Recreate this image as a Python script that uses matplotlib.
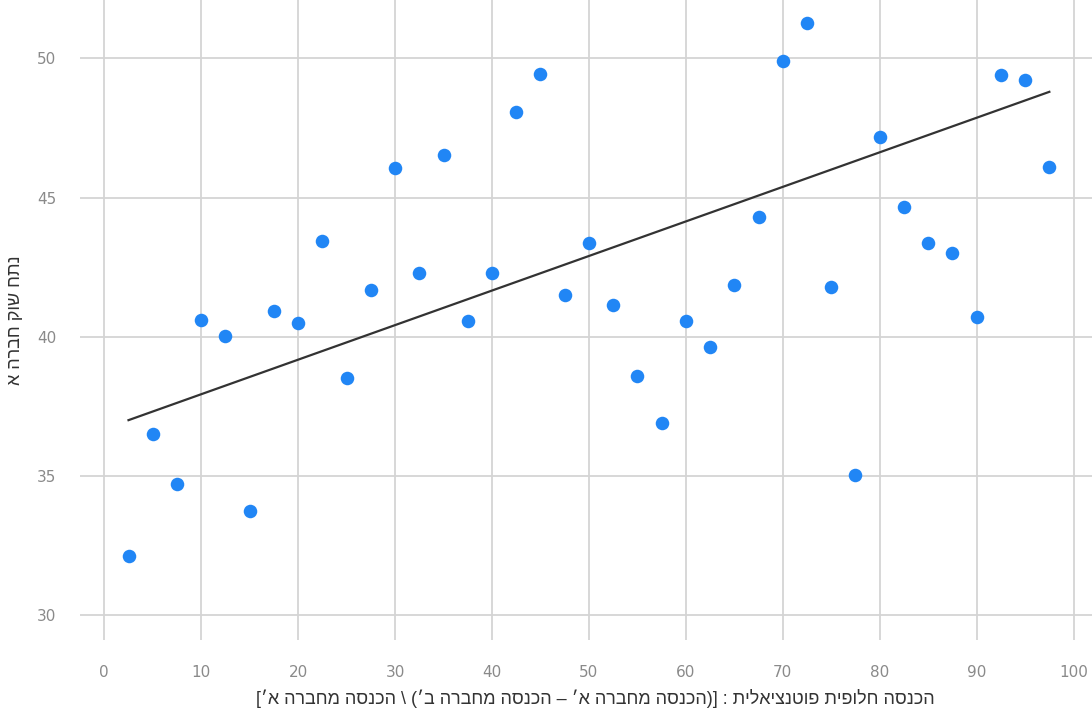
import matplotlib.pyplot as plt

# data
x_vals = [2.5, 5, 7.5, 10, 12.5, 15, 17.5, 20, 22.5, 25, 27.5, 30, 32.5, 35, 37.5,
          40, 42.5, 45, 47.5, 50, 52.5, 55, 57.5, 60, 62.5, 65, 67.5, 70, 72.5, 75,
          77.5, 80, 82.5, 85, 87.5, 90, 92.5, 95, 97.5]
y_vals = [32.12, 36.5, 34.7, 40.59, 40.02, 33.73, 40.92, 40.48, 43.43, 38.51,
          41.67, 46.05, 42.28, 46.52, 40.56, 42.28, 48.06, 49.43, 41.49, 43.36,
          41.13, 38.58, 36.89, 40.56, 39.62, 41.85, 44.29, 49.89, 51.26, 41.78,
          35.03, 47.16, 44.65, 43.36, 43.0, 40.7, 49.39, 49.21, 46.09]
# trend line as drawn in the reference (start / end)
trend_x = [2.5, 97.5]
trend_y = [37.0, 48.8]
x_ticks = [0, 10, 20, 30, 40, 50, 60, 70, 80, 90, 100]
y_ticks = [30, 35, 40, 45, 50]

x_title = "הכנסה חלופית פוטנציאלית : [(הכנסה מחברה א׳ – הכנסה מחברה ב׳) \\ הכנסה מחברה א׳]"
y_title = "נתח שוק חברה א"


# matplotlib has no bidi support, so flip the hebrew text by hand
def rtl(s):
    swap = {"(": ")", ")": "(", "[": "]", "]": "["}
    return "".join(swap.get(c, c) for c in s[::-1])


fig = plt.figure(figsize=(10.92, 7.11), dpi=100)
ax = fig.add_axes([0.0733, 0.0999, 0.9267, 0.9001])

ax.grid(True, color="#d4d4d4", linewidth=1.3)
ax.set_axisbelow(True)
for sp in ax.spines.values():
    sp.set_visible(False)

ax.scatter(x_vals, y_vals, s=95, color="#2186f5", zorder=3, linewidths=0)
ax.plot(trend_x, trend_y, color="#333333", linewidth=1.6, zorder=4)

ax.set_xlim(-2.5, 101.9)
ax.set_ylim(29.1, 52.1)
ax.set_xticks(x_ticks)
ax.set_yticks(y_ticks)
ax.tick_params(length=0, labelsize=11, labelcolor="#8a8a8a")
ax.tick_params(axis="y", pad=17)
ax.tick_params(axis="x", pad=18)

ax.set_xlabel(rtl(x_title), fontsize=13, color="#333333", family="Liberation Sans")
ax.xaxis.set_label_coords(0.509, -0.076)
ax.set_ylabel(rtl(y_title), fontsize=13, color="#333333", family="Liberation Sans")
ax.yaxis.set_label_coords(-0.055, 0.5)

fig.savefig("out.png", dpi=100)
